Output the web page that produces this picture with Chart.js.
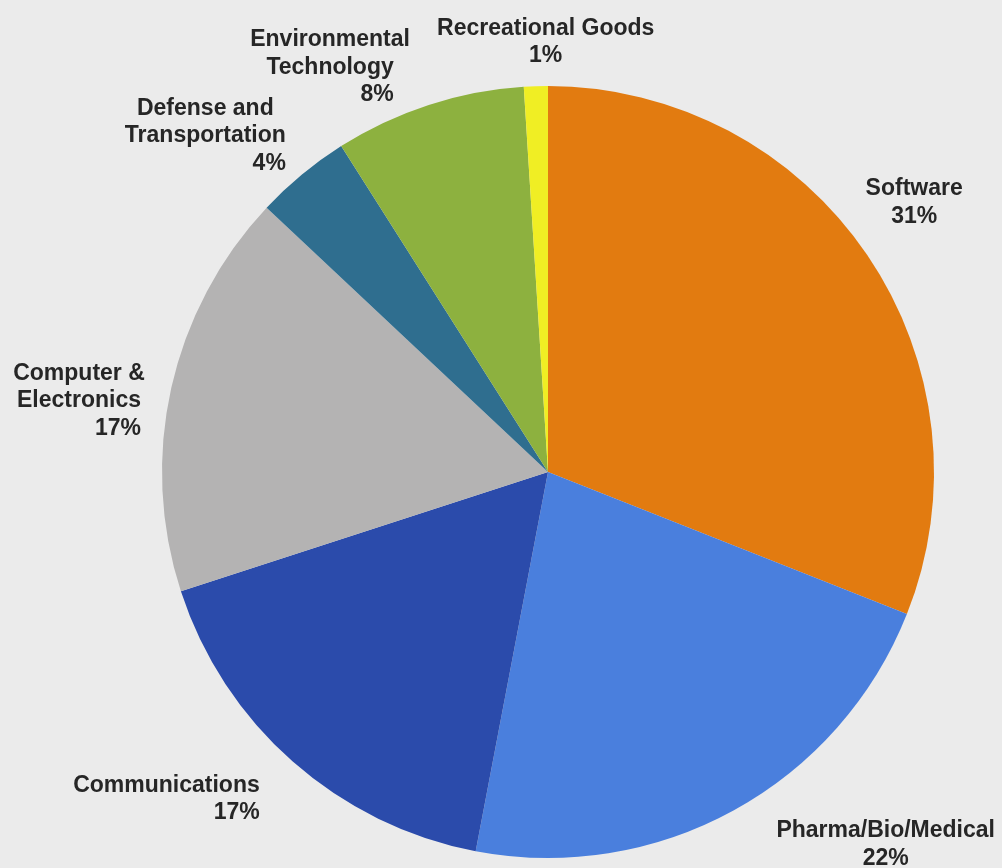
<!DOCTYPE html>
<html>
<head>
<meta charset="utf-8">
<script src="https://cdn.jsdelivr.net/npm/chart.js@4.4.1/dist/chart.umd.min.js"></script>
<style>
  html, body { margin: 0; padding: 0; background: #ebebeb; }
  canvas { display: block; }
</style>
</head>
<body>
<canvas id="sector-pie" width="1002" height="868"></canvas>
<script>
// sectors, clockwise from 12 o'clock
const categories = [
  ['Software'],
  ['Pharma/Bio/Medical'],
  ['Communications'],
  ['Computer &', 'Electronics'],
  ['Defense and', 'Transportation'],
  ['Environmental', 'Technology'],
  ['Recreational Goods']
];
const shares = [31, 22, 17, 17, 4, 8, 1];
const sliceColors = ['#e27b10', '#4a7fdd', '#2b4bab', '#b4b3b3', '#2f6e8f', '#8db13f', '#f0ee24'];

// label placement: gap past the rim along the slice's mid angle, then a small nudge
const labelGap = 70;
const labelNudge = [[-11, -15], [118, -29], [-80, -17], [-24, 26], [-52, 13], [-77, 27], [12, 24]];

const labelFont = 'bold 23px "Liberation Sans", Arial, sans-serif';
const lineHeight = 27.5;

const outsideLabels = {
  id: 'outsideLabels',
  afterDatasetsDraw(chart) {
    const ctx = chart.ctx;
    const meta = chart.getDatasetMeta(0);
    ctx.save();
    ctx.font = labelFont;
    ctx.fillStyle = '#262626';
    ctx.textBaseline = 'alphabetic';
    meta.data.forEach((arc, i) => {
      const p = arc.getProps(['x', 'y', 'startAngle', 'endAngle', 'outerRadius'], true);
      const mid = (p.startAngle + p.endAngle) / 2;
      const dist = p.outerRadius + labelGap;
      const cx = p.x + Math.cos(mid) * dist + labelNudge[i][0];
      const cy = p.y + Math.sin(mid) * dist + labelNudge[i][1];

      const lines = categories[i];
      const n = lines.length + 1;
      const top = cy - (n - 1) / 2 * lineHeight;
      ctx.textAlign = 'center';
      lines.forEach((txt, k) => {
        ctx.fillText(txt, cx, top + k * lineHeight + 8.5);
      });

      // left-hand labels hang the percentage off the right edge of the name
      const pct = shares[i] + '%';
      const py = top + lines.length * lineHeight + 8.5;
      if (Math.cos(mid) < -0.05) {
        const w = ctx.measureText(lines[lines.length - 1]).width;
        ctx.textAlign = 'right';
        ctx.fillText(pct, cx + w / 2, py);
      } else {
        ctx.fillText(pct, cx, py);
      }
    });
    ctx.restore();
  }
};

new Chart(document.getElementById('sector-pie'), {
  type: 'pie',
  data: {
    labels: categories,
    datasets: [{
      data: shares,
      backgroundColor: sliceColors,
      borderWidth: 0,
      hoverOffset: 0
    }]
  },
  options: {
    responsive: false,
    animation: false,
    layout: { padding: { left: 162, right: 68, top: 86, bottom: 10 } },
    plugins: {
      legend: { display: false },
      tooltip: { enabled: false }
    }
  },
  plugins: [outsideLabels]
});
</script>
</body>
</html>
